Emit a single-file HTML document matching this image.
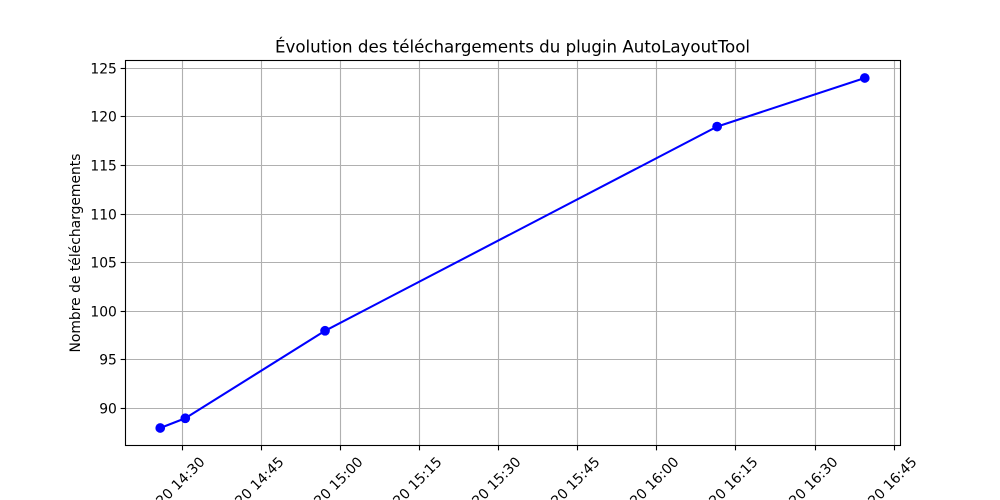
<!DOCTYPE html>
<html lang="fr">
<head>
<meta charset="utf-8">
<title>Évolution des téléchargements</title>
<style>
html,body{margin:0;padding:0;background:#fff;width:1000px;height:500px;overflow:hidden}
svg{display:block}
text{font-family:"DejaVu Sans","Liberation Sans",sans-serif;fill:#000}
</style>
</head>
<body>
<svg id="chart" width="1000" height="500" viewBox="0 0 1000 500" xmlns="http://www.w3.org/2000/svg"></svg>
<script>
const timestamps = ["14:25:50", "14:30:35", "14:57:05", "16:11:25", "16:39:25"];
const downloads = [88, 89, 98, 119, 124];
const xTickLabels = ["14:30", "14:45", "15:00", "15:15", "15:30", "15:45", "16:00", "16:15", "16:30", "16:45"];
const yTickValues = [90, 95, 100, 105, 110, 115, 120, 125];
const datePrefix = "2025-05-20 ";

const NS = "http://www.w3.org/2000/svg";
const svg = document.getElementById("chart");
const plot = { left: 125.5, right: 900.5, top: 60.5, bottom: 445.5 };

function toMinutes(t) {
  const p = t.split(":").map(Number);
  return p[0] * 60 + p[1] + (p[2] || 0) / 60;
}
const times = timestamps.map(toMinutes);
const tMin = Math.min.apply(null, times);
const tMax = Math.max.apply(null, times);
const tPad = (tMax - tMin) * 0.05;
const vMin = Math.min.apply(null, downloads);
const vMax = Math.max.apply(null, downloads);
const vPad = (vMax - vMin) * 0.05;

function xScale(m) {
  return (plot.left - 0.5) + (m - (tMin - tPad)) / (tMax - tMin + 2 * tPad) * (plot.right - plot.left);
}
function yScale(v) {
  return plot.bottom - (v - (vMin - vPad)) / (vMax - vMin + 2 * vPad) * (plot.bottom - plot.top);
}
function snap(p) {
  return Math.floor(p) + 0.5;
}
function make(tag, attrs, parent) {
  const el = document.createElementNS(NS, tag);
  for (const k in attrs) el.setAttribute(k, attrs[k]);
  (parent || svg).appendChild(el);
  return el;
}

const gridColor = "#b0b0b0";
const thin = 1.11;

const bg = make("rect", { x: plot.left, y: plot.top, width: plot.right - plot.left, height: plot.bottom - plot.top, fill: "#fff" });



xTickLabels.forEach(function (label) {
  const x = snap(xScale(toMinutes(label)));

  const grid = make("line", { x1: x, x2: x, y1: plot.top, y2: plot.bottom, stroke: gridColor, "stroke-width": thin });
  
  

  const tick = make("line", { x1: x, x2: x, y1: plot.bottom, y2: plot.bottom + 4.86, stroke: "#000", "stroke-width": thin });
  
  

  const ex = x + 16.3;
  const ey = plot.bottom + 10.5;
  const txt = make("text", { x: ex, y: ey, "font-size": 13.89, "text-anchor": "end", "dominant-baseline": "hanging", transform: "rotate(-45 " + ex + " " + ey + ")" });
  txt.textContent = datePrefix + label;
  
  
});

yTickValues.forEach(function (v) {
  const y = snap(yScale(v));

  const grid = make("line", { x1: plot.left, x2: plot.right, y1: y, y2: y, stroke: gridColor, "stroke-width": thin });
  
  

  const tick = make("line", { x1: plot.left - 4.86, x2: plot.left, y1: y, y2: y, stroke: "#000", "stroke-width": thin });
  
  

  const txt = make("text", { x: plot.left - 8.6, y: y + 5, "font-size": 13.89, "text-anchor": "end" });
  txt.textContent = String(v);
  
  
});

const points = times.map(function (t, i) {
  return xScale(t) + "," + yScale(downloads[i]);
}).join(" ");
const line = make("polyline", { points: points, fill: "none", stroke: "#0000ff", "stroke-width": 2.08, "stroke-linejoin": "round" });



times.forEach(function (t, i) {
  const c = make("circle", { cx: xScale(t), cy: yScale(downloads[i]), r: 4.86, fill: "#0000ff" });
  
  
});

const frame = make("rect", { x: plot.left, y: plot.top, width: plot.right - plot.left, height: plot.bottom - plot.top, fill: "none", stroke: "#000", "stroke-width": thin });



const title = make("text", { x: (plot.left + plot.right) / 2 - 0.5, y: plot.top - 8, "font-size": 16.67, "text-anchor": "middle" });
title.textContent = "Évolution des téléchargements du plugin AutoLayoutTool";



const yTitleX = 80;
const yTitleY = (plot.top + plot.bottom) / 2;
const yTitle = make("text", { x: yTitleX, y: yTitleY, "font-size": 13.89, "text-anchor": "middle", transform: "rotate(-90 " + yTitleX + " " + yTitleY + ")" });
yTitle.textContent = "Nombre de téléchargements";


</script>
</body>
</html>
